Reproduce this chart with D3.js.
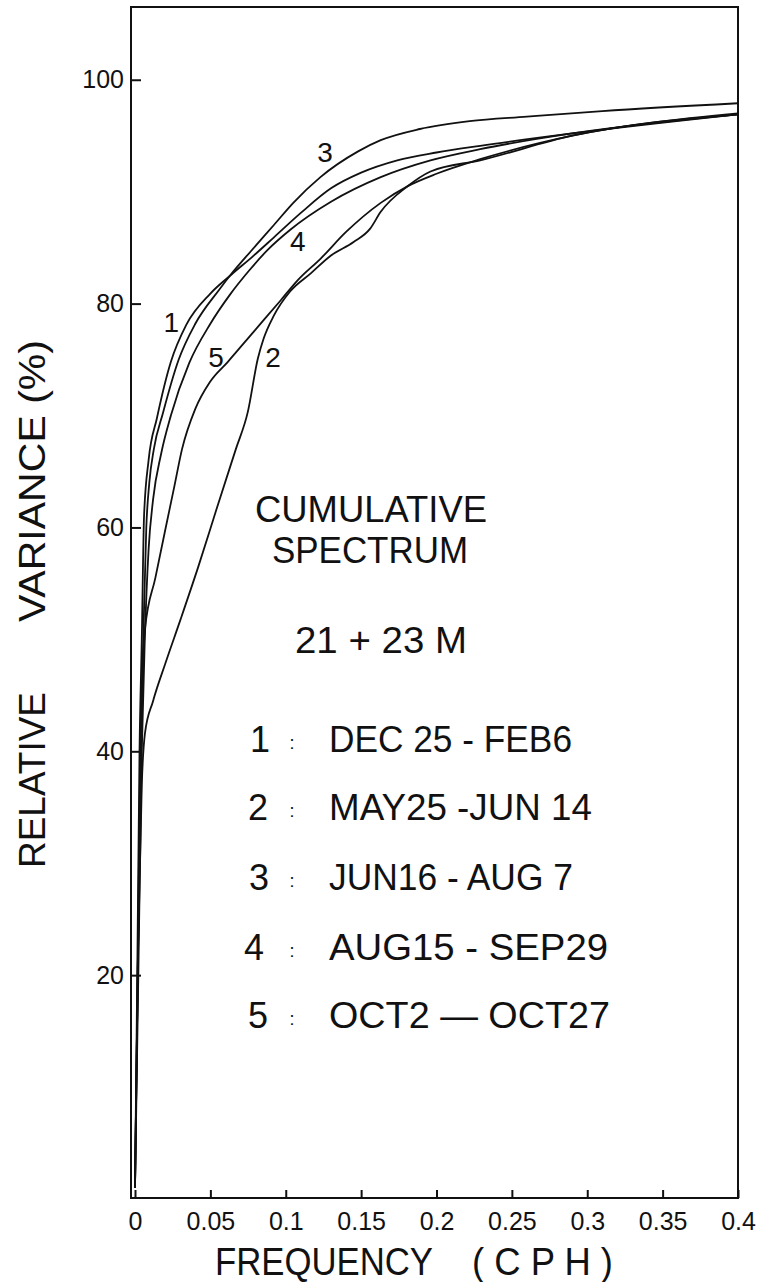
<!DOCTYPE html>
<html>
<head>
<meta charset="utf-8">
<script src="https://cdn.jsdelivr.net/npm/d3@7"></script>
<style>
  body { margin: 0; background: #fff; }
  text { font-family: "Liberation Sans", Arial, sans-serif; fill: #111; }
</style>
</head>
<body>
<div id="chart"></div>
<script>
// frequency ticks (cph) and relative variance ticks (%)
var freqTicks = [0, 0.05, 0.1, 0.15, 0.2, 0.25, 0.3, 0.35, 0.4];
var freqTickLabels = ["0", "0.05", "0.1", "0.15", "0.2", "0.25", "0.3", "0.35", "0.4"];
var varTicks = [20, 40, 60, 80, 100];

var seriesIds = ["1", "2", "3", "4", "5"];
var periods = ["DEC 25 - FEB6", "MAY25 -JUN 14", "JUN16 - AUG 7", "AUG15 - SEP29", "OCT2 \u2014 OCT27"];

// cumulative spectra, [frequency, % variance]
var curve1 = [[0, 1], [0.0015, 20], [0.003, 40], [0.0045, 50], [0.006, 61], [0.009, 66], [0.0146, 69.8],
  [0.0238, 74.8], [0.034, 78.1], [0.05, 80.9], [0.064, 82.6], [0.078, 84.2], [0.092, 85.9], [0.11, 88.1],
  [0.13, 90.3], [0.15, 91.7], [0.174, 92.8], [0.2, 93.5], [0.229, 94.1], [0.29, 95.2], [0.4, 96.9]];
var curve2 = [[0, 1], [0.002, 22], [0.0045, 37], [0.0066, 41.6], [0.012, 44.5], [0.02, 47.8], [0.03, 51.7],
  [0.042, 56.5], [0.054, 61.6], [0.0669, 67], [0.0748, 70.3], [0.0815, 75.1], [0.0854, 76.9], [0.092, 78.9],
  [0.103, 81.1], [0.1166, 82.7], [0.13, 84.3], [0.145, 85.5], [0.156, 86.7], [0.163, 88.2], [0.181, 90.5],
  [0.196, 91.8], [0.229, 92.8], [0.29, 95], [0.4, 96.9]];
var curve3 = [[0, 1], [0.0018, 20], [0.0035, 40], [0.0055, 50], [0.0075, 60], [0.0095, 64], [0.0125, 67],
  [0.0185, 70.2], [0.029, 75], [0.04, 78.2], [0.0556, 81.2], [0.0636, 82.6], [0.077, 84.7], [0.092, 87],
  [0.105, 89], [0.123, 91.3], [0.148, 93.6], [0.163, 94.6], [0.189, 95.6], [0.222, 96.3], [0.26, 96.7],
  [0.31, 97.2], [0.4, 97.9]];
var curve4 = [[0, 1], [0.0022, 20], [0.0045, 40], [0.0065, 50], [0.009, 58], [0.012, 62.5], [0.0172, 66.5],
  [0.0238, 70], [0.036, 74.7], [0.05, 78.2], [0.063, 80.8], [0.076, 83], [0.088, 84.8], [0.103, 86.6],
  [0.13, 89.1], [0.163, 91.3], [0.196, 92.8], [0.229, 93.8], [0.29, 95.2], [0.4, 96.9]];
var curve5 = [[0, 1], [0.0018, 20], [0.004, 40], [0.0066, 50.9], [0.0135, 55.5], [0.0204, 60], [0.026, 63.6],
  [0.0312, 67], [0.04, 70.6], [0.0497, 73], [0.0616, 74.8], [0.0788, 77.5], [0.0967, 80.3], [0.108, 82.1],
  [0.123, 84], [0.14, 86.4], [0.163, 89], [0.181, 90.5], [0.2, 91.6], [0.229, 92.9], [0.29, 95], [0.4, 97]];

var curves = [curve1, curve2, curve3, curve4, curve5];
// where each curve's number is written: [frequency, % variance]
var curveLabelPos = [[0.024, 78.3], [0.0916, 75.2], [0.126, 93.5], [0.108, 85.6], [0.0537, 75.2]];

var width = 758, height = 1282;

var x = d3.scaleLinear().domain([0, 0.4]).range([135, 738]);
var y = d3.scaleLinear().domain([0, 106.5]).range([1199, 7]);

var svg = d3.select("#chart").append("svg")
    .attr("width", width)
    .attr("height", height);

// frame
svg.append("rect")
    .attr("x", 131)
    .attr("y", y(106.5))
    .attr("width", x(0.4) - 131)
    .attr("height", y(0) - y(106.5) - 1)
    .attr("fill", "none")
    .attr("stroke", "#111")
    .attr("stroke-width", 2);

// x axis, ticks pointing into the plot
var xAxis = d3.axisBottom(x)
    .tickValues(freqTicks)
    .tickFormat(function(d, i) { return freqTickLabels[i]; })
    .tickSizeInner(-8)
    .tickSizeOuter(0)
    .tickPadding(14);

svg.append("g")
    .attr("class", "x-axis")
    .attr("transform", "translate(0," + (y(0) - 1) + ")")
    .call(xAxis)
    .call(function(g) { g.select(".domain").remove(); })
    .call(function(g) {
      g.selectAll("line").attr("stroke", "#111").attr("stroke-width", 2);
      g.selectAll("text").attr("font-size", 25).attr("fill", "#111").attr("font-family", null);
    });

// y axis
var yAxis = d3.axisLeft(y)
    .tickValues(varTicks)
    .tickSizeInner(-10)
    .tickSizeOuter(0)
    .tickPadding(7);

svg.append("g")
    .attr("class", "y-axis")
    .attr("transform", "translate(131,0)")
    .call(yAxis)
    .call(function(g) { g.select(".domain").remove(); })
    .call(function(g) {
      g.selectAll("line").attr("stroke", "#111").attr("stroke-width", 2);
      g.selectAll("text").attr("font-size", 25).attr("fill", "#111").attr("font-family", null);
    });

// curves
var line = d3.line()
    .x(function(d) { return x(d[0]); })
    .y(function(d) { return y(d[1]); })
    .curve(d3.curveMonotoneX);

svg.selectAll(".spectrum")
    .data(curves)
  .enter().append("path")
    .attr("class", "spectrum")
    .attr("d", line)
    .attr("fill", "none")
    .attr("stroke", "#111")
    .attr("stroke-width", 1.8);

// curve numbers
svg.selectAll(".curve-label")
    .data(seriesIds)
  .enter().append("text")
    .attr("class", "curve-label")
    .attr("x", function(d, i) { return x(curveLabelPos[i][0]); })
    .attr("y", function(d, i) { return y(curveLabelPos[i][1]); })
    .attr("text-anchor", "middle")
    .attr("dy", "0.35em")
    .attr("font-size", 28)
    .text(function(d) { return d; });

// title block
svg.append("text")
    .attr("x", 371).attr("y", 522)
    .attr("text-anchor", "middle")
    .attr("font-size", 36)
    .attr("textLength", 232)
    .attr("lengthAdjust", "spacingAndGlyphs")
    .text("CUMULATIVE");
svg.append("text")
    .attr("x", 370).attr("y", 563)
    .attr("text-anchor", "middle")
    .attr("font-size", 36)
    .attr("textLength", 196)
    .attr("lengthAdjust", "spacingAndGlyphs")
    .text("SPECTRUM");
svg.append("text")
    .attr("x", 381).attr("y", 653)
    .attr("text-anchor", "middle")
    .attr("font-size", 36)
    .attr("textLength", 172)
    .attr("lengthAdjust", "spacingAndGlyphs")
    .text("21 + 23 M");

// legend of periods
var legendBase = [752, 820, 890, 960, 1028];
var legendEnd = [572, 592, 573, 608, 610];
var legendDigitX = [260, 258, 259, 254, 258];

var rows = svg.selectAll(".legend-row")
    .data(periods)
  .enter().append("g")
    .attr("class", "legend-row");

rows.append("text")
    .attr("x", function(d, i) { return legendDigitX[i]; })
    .attr("y", function(d, i) { return legendBase[i]; })
    .attr("text-anchor", "middle")
    .attr("font-size", 36)
    .text(function(d, i) { return seriesIds[i]; });

rows.append("text")
    .attr("x", 292)
    .attr("y", function(d, i) { return legendBase[i] - 3; })
    .attr("text-anchor", "middle")
    .attr("font-size", 18)
    .text(":");

rows.append("text")
    .attr("x", 329)
    .attr("y", function(d, i) { return legendBase[i]; })
    .attr("font-size", 36)
    .attr("textLength", function(d, i) { return legendEnd[i] - 329; })
    .attr("lengthAdjust", "spacingAndGlyphs")
    .text(function(d) { return d; });

// axis titles
svg.append("text")
    .attr("x", 215).attr("y", 1275)
    .attr("font-size", 38)
    .attr("textLength", 218)
    .attr("lengthAdjust", "spacingAndGlyphs")
    .text("FREQUENCY");
svg.append("text")
    .attr("x", 472).attr("y", 1275)
    .attr("font-size", 38)
    .attr("textLength", 141)
    .attr("lengthAdjust", "spacingAndGlyphs")
    .text("( C P H )");

svg.append("text")
    .attr("transform", "translate(45,868) rotate(-90)")
    .attr("font-size", 37)
    .attr("textLength", 176)
    .attr("lengthAdjust", "spacingAndGlyphs")
    .text("RELATIVE");
svg.append("text")
    .attr("transform", "translate(45,622) rotate(-90)")
    .attr("font-size", 37)
    .attr("textLength", 282)
    .attr("lengthAdjust", "spacingAndGlyphs")
    .text("VARIANCE (%)");
</script>
</body>
</html>
